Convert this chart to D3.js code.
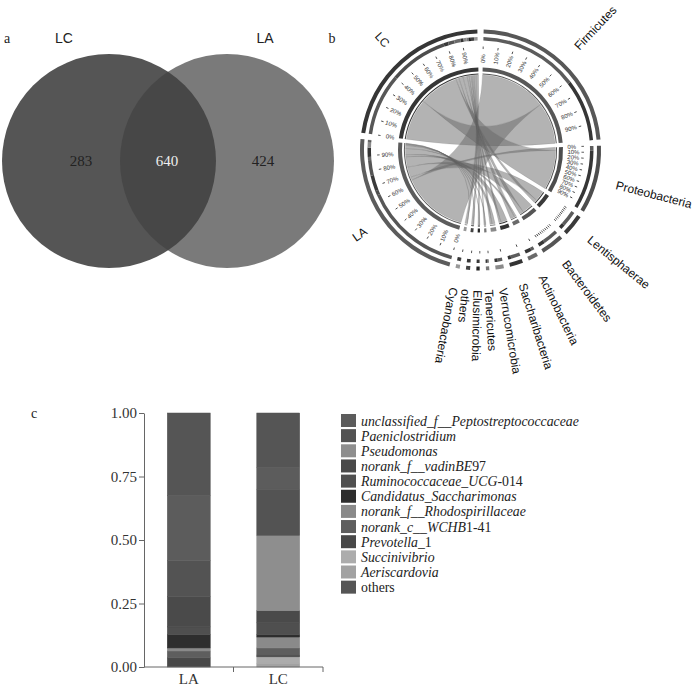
<!DOCTYPE html>
<html>
<head>
<meta charset="utf-8">
<script src="https://cdn.jsdelivr.net/npm/d3@7"></script>
<style>
body { margin: 0; background: #fff; }
</style>
</head>
<body>
<div id="chart"></div>
<script>
// panel a: venn
var vennSets = ["LC", "LA"];
var vennCounts = [283, 640, 424]; // LC only, shared, LA only

// panel b: circos, relative abundance (%) of each phylum per sample
var phyla = ["Firmicutes", "Proteobacteria", "Lentisphaerae", "Bacteroidetes", "Actinobacteria",
	"Saccharibacteria", "Verrucomicrobia", "Tenericutes", "Elusimicrobia", "others", "Cyanobacteria"];
var samples = ["LA", "LC"];
var phylumLA = [64, 3, 10, 10, 2, 6, 3, 0.8, 0.5, 0.5, 0.2];
var phylumLC = [40, 38, 3, 4, 4, 2, 2, 1.2, 1.5, 2, 2.3];
var sectorColors = ["#575757", "#4d4d4d", "#3a3a3a", "#555555", "#6a6a6a", "#333333",
	"#8a8a8a", "#777777", "#222222", "#444444", "#999999", "#5c5c5c", "#363636"];
var tickPct = [0, 10, 20, 30, 40, 50, 60, 70, 80, 90];

// panel c: genus composition
var genera = ["unclassified_f__Peptostreptococcaceae", "Paeniclostridium", "Pseudomonas",
	"norank_f__vadinBE97", "Ruminococcaceae_UCG-014", "Candidatus_Saccharimonas",
	"norank_f__Rhodospirillaceae", "norank_c__WCHB1-41", "Prevotella_1", "Succinivibrio",
	"Aeriscardovia", "others"];
var genusColors = ["#5c5c5c", "#535353", "#8e8e8e", "#4a4a4a", "#4f4f4f", "#2e2e2e",
	"#8a8a8a", "#5e5e5e", "#484848", "#acacac", "#a2a2a2", "#555555"];
var barSamples = ["LA", "LC"];
var genusLA = [0.257, 0.142, 0.0, 0.119, 0.031, 0.052, 0.012, 0.027, 0.036, 0.0, 0.0, 0.324];
var genusLC = [0.086, 0.182, 0.296, 0.048, 0.047, 0.009, 0.043, 0.028, 0.007, 0.025, 0.015, 0.214];
var yTicks = [0, 0.25, 0.5, 0.75, 1];

var sans = "'Liberation Sans', Arial, sans-serif";
var serif = "'Liberation Serif', 'Times New Roman', serif";

var svg = d3.select("#chart").append("svg")
	.attr("width", 700)
	.attr("height", 685);

// ---------- a ----------
var venn = svg.append("g");
var r = 107, cy = 161;
var cx = d3.scaleOrdinal().domain(vennSets).range([109, 227]);

venn.append("circle").attr("cx", cx("LC")).attr("cy", cy).attr("r", r).attr("fill", "#555555");
venn.append("circle").attr("cx", cx("LA")).attr("cy", cy).attr("r", r)
	.attr("fill", "#414141").attr("fill-opacity", 0.7);

var numX = [81, 167, 263];
venn.selectAll(".num")
	.data(vennCounts)
	.enter().append("text")
	.attr("class", "num")
	.attr("x", function(d, i) { return numX[i]; })
	.attr("y", cy + 5)
	.attr("text-anchor", "middle")
	.attr("font-family", serif)
	.attr("font-size", 15)
	.attr("fill", function(d, i) { return i == 1 ? "#eeeeee" : "#222"; })
	.text(function(d) { return d; });

venn.selectAll(".setname")
	.data(vennSets)
	.enter().append("text")
	.attr("x", function(d) { return d == "LC" ? 64 : 265; })
	.attr("y", 43)
	.attr("text-anchor", "middle")
	.attr("font-family", sans)
	.attr("font-size", 14)
	.attr("fill", "#222")
	.text(function(d) { return d; });

[["a", 7, 43], ["b", 332, 43], ["c", 34, 418]].forEach(function(p) {
	svg.append("text").attr("x", p[1]).attr("y", p[2])
		.attr("text-anchor", "middle")
		.attr("font-family", serif).attr("font-size", 14).attr("fill", "#222")
		.text(p[0]);
});

// ---------- b ----------
var names = phyla.concat(samples);
var n = names.length;
var matrix = names.map(function() { return d3.range(n).map(function() { return 0; }); });
phyla.forEach(function(p, i) {
	matrix[i][n - 2] = matrix[n - 2][i] = phylumLA[i];
	matrix[i][n - 1] = matrix[n - 1][i] = phylumLC[i];
});

var pad = 3 * Math.PI / 180;
var chords = d3.chord().padAngle(pad)(matrix);
var offDeg = 1.5;
var toDeg = function(a) { return a * 180 / Math.PI + offDeg; };

var circ = svg.append("g").attr("transform", "translate(480.5,150)");
var rot = circ.append("g").attr("transform", "rotate(" + offDeg + ")");

rot.append("g").selectAll("path")
	.data(chords)
	.enter().append("path")
	.attr("d", d3.ribbon().radius(75))
	.attr("fill", "#676767")
	.attr("fill-opacity", 0.5)
	.attr("stroke", "#555")
	.attr("stroke-opacity", 0.35)
	.attr("stroke-width", 0.4);

var groups = chords.groups;

rot.append("g").selectAll("path")
	.data(groups)
	.enter().append("path")
	.attr("d", d3.arc().innerRadius(78.5).outerRadius(82.5))
	.attr("fill", function(d) { return sectorColors[d.index]; });

rot.append("g").selectAll("path")
	.data(groups)
	.enter().append("path")
	.attr("d", d3.arc().innerRadius(75.6).outerRadius(76.6))
	.attr("fill", function(d) { return sectorColors[d.index]; });

// ring A: share of each partner inside a sector
var ends = [];
chords.forEach(function(c) {
	ends.push({index: c.source.index, partner: c.target.index, startAngle: c.source.startAngle, endAngle: c.source.endAngle});
	ends.push({index: c.target.index, partner: c.source.index, startAngle: c.target.startAngle, endAngle: c.target.endAngle});
});
rot.append("g").selectAll("path")
	.data(ends)
	.enter().append("path")
	.attr("d", d3.arc().innerRadius(109.5).outerRadius(113))
	.attr("fill", function(d) { return sectorColors[d.partner]; });

// ring B: sector colour
rot.append("g").selectAll("path")
	.data(groups)
	.enter().append("path")
	.attr("d", d3.arc().innerRadius(116.5).outerRadius(120.5))
	.attr("fill", function(d) { return sectorColors[d.index]; });

// ticks and percentage labels
var tickData = [];
groups.forEach(function(g) {
	var a = d3.scaleLinear().domain([0, 100]).range([g.startAngle, g.endAngle]);
	var span = (g.endAngle - g.startAngle) * 180 / Math.PI;
	var list = span >= 10 ? tickPct : [0];
	list.forEach(function(t) {
		tickData.push({deg: toDeg(a(t)), pct: t, label: span > 15});
	});
});

var ticks = circ.append("g").selectAll("g")
	.data(tickData)
	.enter().append("g")
	.attr("transform", function(d) { return "rotate(" + (d.deg - 90) + ")"; });

ticks.append("line")
	.attr("x1", 101).attr("x2", 103.5)
	.attr("stroke", "#333").attr("stroke-width", 0.8);

ticks.filter(function(d) { return d.label; })
	.append("text")
	.attr("x", function(d) { return d.deg < 180 ? 87 : -87; })
	.attr("dy", "0.35em")
	.attr("transform", function(d) { return d.deg < 180 ? null : "rotate(180)"; })
	.attr("text-anchor", function(d) { return d.deg < 180 ? "start" : "end"; })
	.attr("font-family", sans)
	.attr("font-size", 6)
	.attr("fill", "#333")
	.text(function(d) { return d.pct + "%"; });

// sector names (bottom ones keep reading downward)
var flip = 200;
circ.append("g").selectAll("text")
	.data(groups)
	.enter().append("text")
	.each(function(d) { d.mid = toDeg((d.startAngle + d.endAngle) / 2); })
	.attr("transform", function(d) {
		return "rotate(" + (d.mid - 90) + ")translate(140,0)" + (d.mid < flip ? "" : "rotate(180)");
	})
	.attr("dy", "0.35em")
	.attr("text-anchor", function(d) { return d.mid < flip ? "start" : "end"; })
	.attr("font-family", sans)
	.attr("font-size", 12)
	.attr("fill", "#111")
	.text(function(d) { return names[d.index]; });

// ---------- c ----------
var stackKeys = genera.slice(0, -1).reverse().concat(["others"]); // bottom: Aeriscardovia ... top: others
var rows = barSamples.map(function(s, si) {
	var row = {sample: s};
	genera.forEach(function(g, gi) { row[g] = (si == 0 ? genusLA : genusLC)[gi]; });
	return row;
});
var series = d3.stack().keys(stackKeys)(rows);

var x = d3.scaleBand().domain(barSamples).range([144, 323]);
var y = d3.scaleLinear().domain([0, 1]).range([667, 413]);
var bw = x.bandwidth() * 0.48;

var bars = svg.append("g");
bars.selectAll("g")
	.data(series)
	.enter().append("g")
	.attr("fill", function(d) { return genusColors[genera.indexOf(d.key)]; })
	.attr("stroke", function(d) { return genusColors[genera.indexOf(d.key)]; })
	.attr("stroke-width", 0.5)
	.selectAll("rect")
	.data(function(d) { return d; })
	.enter().append("rect")
	.attr("x", function(d) { return x(d.data.sample) + (x.bandwidth() - bw) / 2; })
	.attr("y", function(d) { return y(d[1]); })
	.attr("width", bw)
	.attr("height", function(d) { return y(d[0]) - y(d[1]); });

var yAxis = svg.append("g")
	.attr("transform", "translate(144,0)")
	.call(d3.axisLeft(y).tickValues(yTicks).tickFormat(d3.format(".2f")).tickSize(5).tickPadding(2).tickSizeOuter(0));
yAxis.selectAll("text").attr("font-family", serif).attr("font-size", 15).attr("fill", "#333");
yAxis.selectAll("line, path").attr("stroke", "#666");

var xAxis = svg.append("g").attr("transform", "translate(0,667)");
xAxis.append("line").attr("x1", 144).attr("x2", 323).attr("stroke", "#666");
xAxis.selectAll(".tk")
	.data(barSamples)
	.enter().append("line")
	.attr("x1", function(d) { return x(d) + x.bandwidth(); })
	.attr("x2", function(d) { return x(d) + x.bandwidth(); })
	.attr("y2", 5)
	.attr("stroke", "#666");
xAxis.selectAll(".lb")
	.data(barSamples)
	.enter().append("text")
	.attr("x", function(d) { return x(d) + x.bandwidth() / 2; })
	.attr("y", 16.5)
	.attr("text-anchor", "middle")
	.attr("font-family", serif).attr("font-size", 15).attr("fill", "#333")
	.text(function(d) { return d; });

// legend
var legend = svg.append("g").attr("transform", "translate(341,414)");
var item = legend.selectAll("g")
	.data(genera)
	.enter().append("g")
	.attr("transform", function(d, i) { return "translate(0," + (i * 15.15) + ")"; });
item.append("rect")
	.attr("width", 15).attr("height", 13)
	.attr("fill", function(d, i) { return genusColors[i]; });
item.append("text")
	.attr("x", 20).attr("y", 11.5)
	.attr("font-family", serif).attr("font-size", 13.8).attr("fill", "#222")
	.each(function(d) {
		var t = d3.select(this);
		if (d == "others") { t.text(d); return; }
		var m = d.match(/^([^\d-]*)(.*)$/);
		t.append("tspan").attr("font-style", "italic").text(m[1]);
		if (m[2]) t.append("tspan").text(m[2]);
	});
</script>
</body>
</html>
